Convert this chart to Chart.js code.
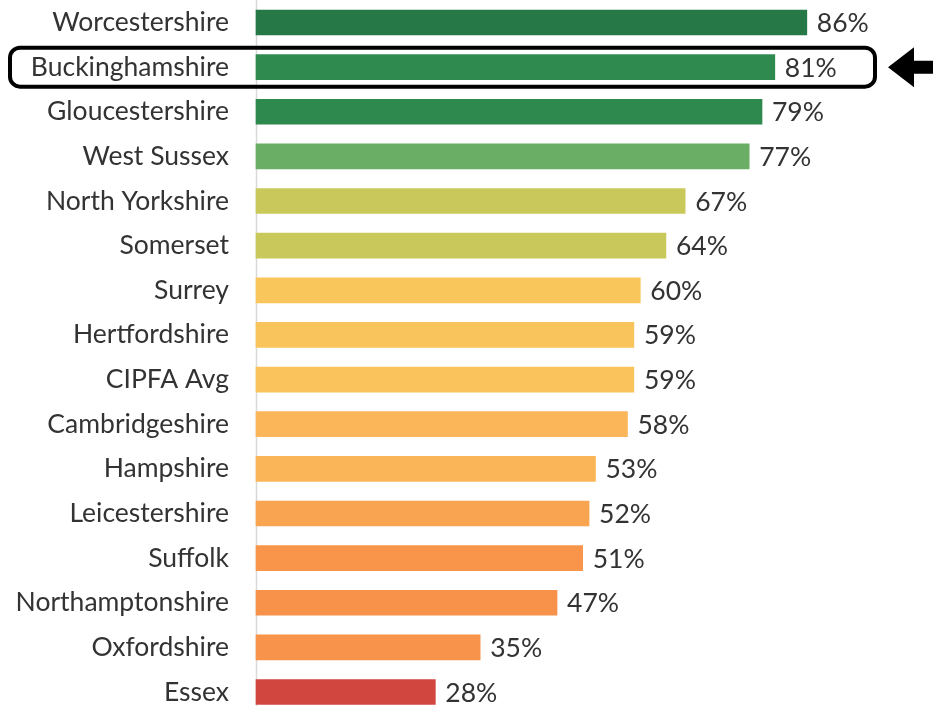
<!DOCTYPE html>
<html>
<head>
<meta charset="utf-8">
<script src="https://cdn.jsdelivr.net/npm/chart.js@4/dist/chart.umd.min.js"></script>
<style>
  html, body { margin: 0; padding: 0; background: #ffffff; }
  #wrap { width: 933px; height: 706px; position: relative; }
</style>
</head>
<body>
<div id="wrap"><canvas id="chart" width="933" height="706"></canvas></div>
<script>
// Counties ranked by percentage
const counties = [
  'Worcestershire', 'Buckinghamshire', 'Gloucestershire', 'West Sussex',
  'North Yorkshire', 'Somerset', 'Surrey', 'Hertfordshire', 'CIPFA Avg',
  'Cambridgeshire', 'Hampshire', 'Leicestershire', 'Suffolk',
  'Northamptonshire', 'Oxfordshire', 'Essex'
];
const percentages = [86, 81, 79, 77, 67, 64, 60, 59, 59, 58, 53, 52, 51, 47, 35, 28];
const barColours = [
  '#267847', '#2f8a50', '#2e894f', '#6aad64',
  '#c9c85b', '#c9c85b', '#f9c65c', '#fac45c', '#fac35c',
  '#fbb65a', '#fbb559', '#f9a450', '#f8954a',
  '#f8914a', '#f7934a', '#d24640'
];
const highlighted = 'Buckinghamshire';

const FONT = 'Lato, "Open Sans", sans-serif';
const FONT_SIZE = 26.5;
const TEXT = '#333333';

// Light vertical axis line running the full height
const axisLine = {
  id: 'axisLine',
  beforeDatasetsDraw(chart) {
    const { ctx, chartArea } = chart;
    ctx.save();
    ctx.strokeStyle = '#d9d9d9';
    ctx.lineWidth = 1.5;
    ctx.beginPath();
    ctx.moveTo(chartArea.left + 0.5, 0);
    ctx.lineTo(chartArea.left + 0.5, chart.height);
    ctx.stroke();
    ctx.restore();
  }
};

// Percentage labels just past the end of each bar
const valueLabels = {
  id: 'valueLabels',
  afterDatasetsDraw(chart) {
    const { ctx } = chart;
    const meta = chart.getDatasetMeta(0);
    ctx.save();
    ctx.font = FONT_SIZE + 'px ' + FONT;
    ctx.fillStyle = TEXT;
    ctx.textAlign = 'left';
    ctx.textBaseline = 'middle';
    meta.data.forEach((bar, i) => {
      ctx.fillText(percentages[i] + '%', bar.x + 10, bar.y + 1);
    });
    ctx.restore();
  }
};

// Rounded frame round the highlighted row, with an arrow pointing at it
const highlight = {
  id: 'highlight',
  afterDraw(chart) {
    const { ctx } = chart;
    const y = chart.scales.y.getPixelForValue(counties.indexOf(highlighted));
    const left = 10, right = 875, half = 19.5, r = 10;
    ctx.save();
    ctx.strokeStyle = '#000000';
    ctx.lineWidth = 4;
    ctx.beginPath();
    ctx.roundRect(left, y - half, right - left, half * 2, r);
    ctx.stroke();

    // arrow
    const tip = 888;
    ctx.fillStyle = '#000000';
    ctx.beginPath();
    ctx.moveTo(tip, y);
    ctx.lineTo(tip + 26, y - 20);
    ctx.lineTo(tip + 26, y - 6.5);
    ctx.lineTo(933, y - 6.5);
    ctx.lineTo(933, y + 6.5);
    ctx.lineTo(tip + 26, y + 6.5);
    ctx.lineTo(tip + 26, y + 20);
    ctx.closePath();
    ctx.fill();
    ctx.restore();
  }
};

new Chart(document.getElementById('chart'), {
  type: 'bar',
  data: {
    labels: counties,
    datasets: [{
      data: percentages,
      backgroundColor: barColours,
      borderWidth: 0,
      barThickness: 25,
      clip: false
    }]
  },
  options: {
    indexAxis: 'y',
    responsive: false,
    animation: false,
    events: [],
    layout: { padding: { top: 22.5, bottom: 14, left: 0, right: 36.5 } },
    plugins: { legend: { display: false }, tooltip: { enabled: false } },
    scales: {
      x: {
        min: 0, max: 100,
        display: false
      },
      y: {
        offset: false,
        grid: { display: false, drawTicks: false },
        border: { display: false },
        ticks: {
          padding: 27,
          autoSkip: false,
          color: TEXT,
          font: { family: FONT, size: FONT_SIZE }
        },
        afterFit(scale) {
          scale.width = 256;
          scale.paddingTop = 0;
          scale.paddingBottom = 0;
        }
      }
    }
  },
  plugins: [axisLine, valueLabels, highlight]
});
</script>
</body>
</html>
